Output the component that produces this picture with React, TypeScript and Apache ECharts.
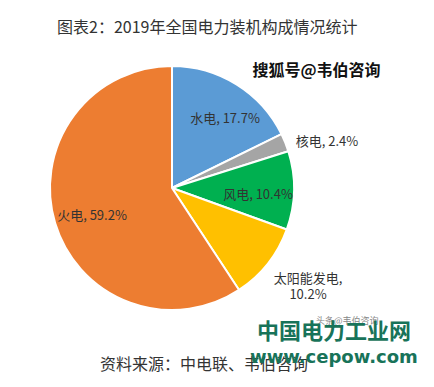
import React, { useEffect, useRef } from "react";
import * as echarts from "echarts";

const categories = ["水电", "核电", "风电", "太阳能发电", "火电"];
const shares = [17.7, 2.4, 10.4, 10.2, 59.2];
const colors = ["#5B9BD5", "#A5A5A5", "#00B050", "#FFC000", "#ED7D31"];
const titleText = "图表2：2019年全国电力装机构成情况统计";
const sourceText = "资料来源：中电联、韦伯咨询";

// label anchor points (px) for each slice label
const labelSpots = [
  [225, 117],
  [327, 140],
  [258, 193],
  [308, 285],
  [92, 214],
];

const FONT = "'Noto Sans CJK SC', 'Noto Sans', sans-serif";

export default function App() {
  const ref = useRef<HTMLDivElement>(null);
  useEffect(() => {
    if (!ref.current) return;
    const chart = echarts.init(ref.current, undefined, { renderer: "svg" });
    chart.setOption({
      animation: false,
      backgroundColor: "#ffffff",
      title: {
        text: titleText,
        left: 52,
        top: 13,
        textStyle: { fontSize: 16, fontWeight: "normal", color: "#333333", fontFamily: FONT },
      },
      graphic: [
        {
          type: "text",
          left: 252,
          top: 60,
          style: {
            text: "搜狐号@韦伯咨询",
            fontSize: 16,
            fontWeight: "bold",
            fill: "#111111",
            stroke: "#ffffff",
            lineWidth: 1,
            fontFamily: FONT,
          },
        },
        {
          type: "text",
          left: 316,
          top: 316,
          style: { text: "头条@韦伯咨询", fontSize: 9, fill: "#888888", fontFamily: FONT },
        },
        {
          type: "text",
          left: 257,
          top: 318,
          style: {
            text: "中国电力工业网",
            fontSize: 22,
            fontWeight: "bold",
            fill: "#187359",
            fontFamily: FONT,
          },
        },
        {
          type: "text",
          left: 100,
          top: 355,
          style: { text: sourceText, fontSize: 16, fill: "#333333", fontFamily: FONT },
        },
        {
          type: "text",
          left: 250,
          top: 347,
          style: {
            text: "www.cepow.com",
            fontSize: 18,
            fontWeight: "bold",
            fill: "#187359",
            fontFamily: "'DejaVu Sans', sans-serif",
          },
        },
      ],
      series: [
        {
          type: "pie",
          center: [172, 188],
          radius: 122,
          startAngle: 90,
          clockwise: true,
          itemStyle: { borderColor: "#ffffff", borderWidth: 2 },
          label: {
            show: true,
            position: "inside",
            fontSize: 13,
            color: "#333333",
            fontFamily: FONT,
            lineHeight: 16,
            formatter: (p: any) =>
              p.dataIndex === 3 ? `${p.name},\n${p.value}%` : `${p.name}, ${p.value}%`,
          },
          labelLine: { show: false },
          labelLayout: (p: any) => ({
            x: labelSpots[p.dataIndex][0],
            y: labelSpots[p.dataIndex][1],
            align: "center",
            verticalAlign: "middle",
          }),
          emphasis: { disabled: true },
          data: categories.map((c, i) => ({
            name: c,
            value: shares[i],
            itemStyle: { color: colors[i] },
          })),
        },
      ],
    });
    return () => chart.dispose();
  }, []);
  return (
    <div
      ref={ref}
      style={{ position: "fixed", left: 0, top: 0, width: 434, height: 387 }}
    />
  );
}
